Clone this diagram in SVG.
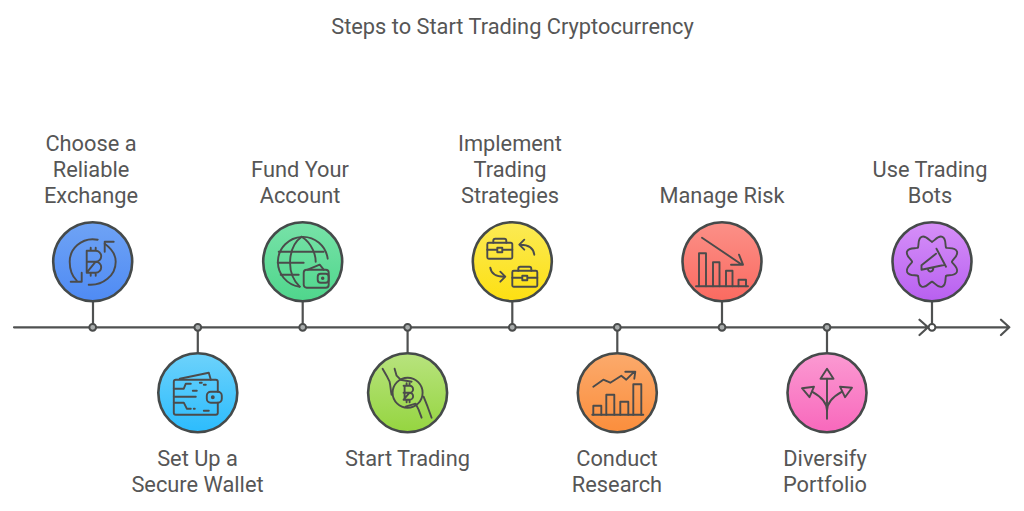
<svg xmlns="http://www.w3.org/2000/svg" width="1024" height="511" viewBox="0 0 1024 511">
<style>
text{font-family:Roboto,"Liberation Sans",sans-serif;font-size:21.8px;fill:#565656;text-anchor:middle}
.c{stroke:#454a4a;stroke-width:2.6}
.l{fill:none;stroke:#4f5151;stroke-width:2.2;stroke-linecap:round;stroke-linejoin:round}
.i{fill:none;stroke:#4b4b4b;stroke-width:1.9;stroke-linecap:round;stroke-linejoin:round}
.d{fill:#a8acac;stroke:#4a4c4c;stroke-width:2}
</style>
<defs>
<linearGradient id="g1" x1="0" y1="0" x2="0" y2="1"><stop offset="0" stop-color="#6fa3f5"/><stop offset="1" stop-color="#4f8bf4"/></linearGradient>
<linearGradient id="g2" x1="0" y1="0" x2="0" y2="1"><stop offset="0" stop-color="#6dd2fb"/><stop offset="1" stop-color="#2cbcfd"/></linearGradient>
<linearGradient id="g3" x1="0" y1="0" x2="0" y2="1"><stop offset="0" stop-color="#78e2a8"/><stop offset="1" stop-color="#4fd68c"/></linearGradient>
<linearGradient id="g4" x1="0" y1="0" x2="0" y2="1"><stop offset="0" stop-color="#b8e37e"/><stop offset="1" stop-color="#95d540"/></linearGradient>
<linearGradient id="g5" x1="0" y1="0" x2="0" y2="1"><stop offset="0" stop-color="#fbea55"/><stop offset="1" stop-color="#fde012"/></linearGradient>
<linearGradient id="g6" x1="0" y1="0" x2="0" y2="1"><stop offset="0" stop-color="#fbaa6c"/><stop offset="1" stop-color="#fb8e3c"/></linearGradient>
<linearGradient id="g7" x1="0" y1="0" x2="0" y2="1"><stop offset="0" stop-color="#fb9088"/><stop offset="1" stop-color="#fb6a60"/></linearGradient>
<linearGradient id="g8" x1="0" y1="0" x2="0" y2="1"><stop offset="0" stop-color="#fb9ad2"/><stop offset="1" stop-color="#f868bc"/></linearGradient>
<linearGradient id="g9" x1="0" y1="0" x2="0" y2="1"><stop offset="0" stop-color="#d690f8"/><stop offset="1" stop-color="#b860f0"/></linearGradient>
<path id="lobe" d="M0,-20 C2,-20 5.700,-26.800 10.300,-24.900 C14.900,-23 12.700,-15.600 14.140,-14.140"/>
</defs>
<rect width="1024" height="511" fill="#fff"/>
<text id="title" x="512.500" y="33.500">Steps to Start Trading Cryptocurrency</text>
<g id="connectors" class="l">
<path d="M14,327.300H1009M1001,319.700L1009.300,327.300L1001,335M919.500,319.700L928,327.300L919.500,335"/>
<path d="M93,301V327M197.800,327V353M302.700,301V327M407.600,327V353M512.300,301V327M617.300,327V353M722,301V327M827,327V353M932,301V327"/>
</g>
<g id="node1">
<circle class="c" cx="92.700" cy="261.700" r="39.500" fill="url(#g1)"/>
<circle class="d" cx="92.700" cy="327.300" r="3.400"/>
<text x="91" y="151">Choose a</text><text x="91" y="177">Reliable</text><text x="91" y="203">Exchange</text>
<g class="i" transform="translate(92.700,261.700)">
<path d="M5,-22C-12,-25 -23,-12 -23,0C-23,8 -20,15 -16,19"/><path d="M-22,20H-11V11"/>
<path d="M12,-18C19,-13 23,-7 23,0C23,14 10,24 -4,23"/><path d="M12,-10V-20H21"/>
<path d="M-6,-11H3A5,5 0 0 1 3,0H-6M3,0A5.500,5.500 0 0 1 3,11H-6ZM-6,-11V11M-2,-14V-11M3,-14V-11M-2,11V14M3,11V14"/>
</g>
</g>
<g id="node2">
<circle class="c" cx="197.800" cy="392.700" r="39.500" fill="url(#g2)"/>
<circle class="d" cx="197.800" cy="327.300" r="3.400"/>
<text x="197.500" y="466">Set Up a</text><text x="197.500" y="492">Secure Wallet</text>
<g class="i" transform="translate(197.800,392.700)">
<path d="M20,-1V-11A2,2 0 0 0 18,-13H-22A2,2 0 0 0 -24,-11V20A2,2 0 0 0 -22,22H18A2,2 0 0 0 20,20V10"/>
<path d="M-18,-14L11,-20L13,-13"/>
<rect x="9" y="-1" width="15" height="11" rx="4"/><circle cx="15" cy="4.500" r="1"/>
<path d="M-24,-4H-14L-12,-9H-7M-24,4H-2M-24,10H-14L-11,16H-7M-5,-2H-1M2,-10H4M6,-8H8M-4,16H-3M6,18H11"/>
</g>
</g>
<g id="node3">
<circle class="c" cx="302.700" cy="261.700" r="39.500" fill="url(#g3)"/>
<circle class="d" cx="302.700" cy="327.300" r="3.400"/>
<text x="300" y="177">Fund Your</text><text x="300" y="203">Account</text>
<g class="i" transform="translate(302.700,261.700)">
<path d="M-3,25A25,25 0 1 1 25,-3"/>
<path d="M-1,-25C-14,-16 -18,10 -3,25M-1,-25C10,-18 13,-6 13,0"/>
<path d="M-24,-10H21M-25,1H1M-22,13H-4"/>
<rect x="1" y="8" width="25" height="18" rx="3"/><path d="M5,8L17,3L21,8"/>
<rect x="15" y="12" width="11" height="9" rx="3"/><circle cx="20" cy="16.500" r="0.800"/>
</g>
</g>
<g id="node4">
<circle class="c" cx="407.600" cy="392.700" r="39.500" fill="url(#g4)"/>
<circle class="d" cx="407.600" cy="327.300" r="3.400"/>
<text x="407.500" y="466">Start Trading</text>
<g class="i" transform="translate(407.600,392.700)">
<circle cx="0" cy="0" r="15"/>
<path d="M-25,-24L-21,-17L-18,-11C-17,-7 -17,-2 -16,2M-13,-24L-11,-17L-7,-13L4,-11"/>
<path d="M24,25L20,14L16,4M14,25L11,17L8,11L-2,14"/>
<path d="M-4,-7H2A3,3 0 0 1 2,0H-4M2,0A3.500,3.500 0 0 1 2,7H-4ZM-3,-7V7M-1,-9.500V-7M2,-9.500V-7M-1,7V9.500M2,7V9.500"/>
</g>
</g>
<g id="node5">
<circle class="c" cx="512.300" cy="261.700" r="39.500" fill="url(#g5)"/>
<circle class="d" cx="512.300" cy="327.300" r="3.400"/>
<text x="510" y="151">Implement</text><text x="510" y="177">Trading</text><text x="510" y="203">Strategies</text>
<g class="i" transform="translate(512.300,261.700)">
<rect x="-25" y="-19" width="25" height="16" rx="1.500"/><path d="M-19,-19V-21A2,2 0 0 1 -17,-23H-8A2,2 0 0 1 -6,-21V-19M-25,-12H-15.500M-9.500,-12H0"/><rect x="-15" y="-14" width="5" height="4.500"/>
<rect x="0" y="9" width="25" height="16" rx="1.500"/><path d="M6,9V7A2,2 0 0 1 8,5H17A2,2 0 0 1 19,7V9M0,16H9.500M15.500,16H25"/><rect x="10" y="14" width="5" height="4.500"/>
<path d="M22,-7C21,-15 14,-17 8,-17M12,-22L7,-17L12,-12"/>
<path d="M-22,6C-21,14 -14,15 -8,15M-12,10L-7,15L-12,20"/>
</g>
</g>
<g id="node6">
<circle class="c" cx="617.300" cy="392.700" r="39.500" fill="url(#g6)"/>
<circle class="d" cx="617.300" cy="327.300" r="3.400"/>
<text x="617" y="466">Conduct</text><text x="617" y="492">Research</text>
<g class="i" transform="translate(617.300,392.700)">
<path d="M-25,22H26"/>
<path d="M-24,22V13H-16V22M-11,22V2H-3V22M3,22V9H11V22M16,22V-8.500H24V22"/>
<path d="M-24,-6L-14,-13L-7,-10L4,-17L9,-13L17,-21M8,-21H18L17,-14"/>
</g>
</g>
<g id="node7">
<circle class="c" cx="722" cy="261.700" r="39.500" fill="url(#g7)"/>
<circle class="d" cx="722" cy="327.300" r="3.400"/>
<text x="722" y="203">Manage Risk</text>
<g class="i" transform="translate(722,261.700)">
<path d="M-26,24.500H26"/>
<path d="M-23,24.500V-8.500H-16V24.500M-9,24.500V0.500H-2.500V24.500M4,24.500V9H10.500V24.500M16.500,24.500V18H24V24.500"/>
<path d="M-20,-24L20,3M9,3H21L17,-7"/>
</g>
</g>
<g id="node8">
<circle class="c" cx="827" cy="392.700" r="39.500" fill="url(#g8)"/>
<circle class="d" cx="827" cy="327.300" r="3.400"/>
<text x="825" y="466">Diversify</text><text x="825" y="492">Portfolio</text>
<g class="i" transform="translate(827,392.700)">
<path d="M0,-24L-6.500,-14H6.500Z"/><path d="M0,-14V26"/>
<path d="M-25,-4.500L-13,-6L-17.500,4.500Z"/><path d="M25,-5L13,-6L18,4.500Z"/>
<path d="M-15,-1C-6,4 0,10 0,18M15,-1C6,4 0,10 0,18"/>
</g>
</g>
<g id="node9">
<circle class="c" cx="932" cy="261.700" r="39.500" fill="url(#g9)"/>
<circle class="d" cx="932" cy="327.300" r="3.400" style="fill:#fff"/>
<text x="930" y="177">Use Trading</text><text x="930" y="203">Bots</text>
<g class="i" transform="translate(932,261.700)">
<use href="#lobe"/><use href="#lobe" transform="rotate(45)"/><use href="#lobe" transform="rotate(90)"/><use href="#lobe" transform="rotate(135)"/><use href="#lobe" transform="rotate(180)"/><use href="#lobe" transform="rotate(225)"/><use href="#lobe" transform="rotate(270)"/><use href="#lobe" transform="rotate(315)"/>
<path d="M4.500,-13L14,5M4,-8L-10.500,3.500V8L13,3M-4,7C-4,11 1,11 1.500,6"/>
</g>
</g>
</svg>
